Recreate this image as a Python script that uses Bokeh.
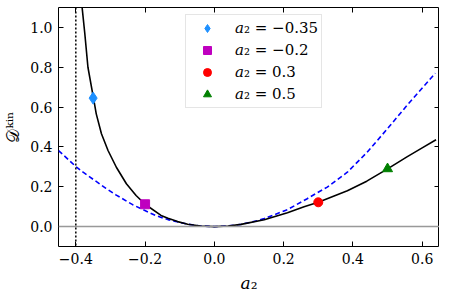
from bokeh.plotting import figure
from bokeh.models import Range1d, LinearAxis, FixedTicker, Span, Legend, LegendItem
from bokeh.embed import file_html
from bokeh.resources import INLINE

# ---- data ----
black_x = [-0.383, -0.374, -0.365, -0.349, -0.341, -0.326, -0.307, -0.283, -0.254,
           -0.226, -0.200, -0.154, -0.134, -0.106, -0.077, -0.040, 0.000, 0.040,
           0.077, 0.144, 0.211, 0.259, 0.300, 0.384, 0.440, 0.500, 0.556, 0.600, 0.640]
black_y = [1.12, 0.968, 0.800, 0.645, 0.566, 0.466, 0.382, 0.298, 0.215,
           0.156, 0.112, 0.056, 0.042, 0.025, 0.012, 0.003, 0.000, 0.003,
           0.011, 0.034, 0.070, 0.100, 0.122, 0.180, 0.228, 0.290, 0.350, 0.395, 0.436]

blue_x = [-0.450, -0.399, -0.379, -0.313, -0.283, -0.236, -0.206, -0.169, -0.134,
          -0.077, -0.040, 0.000, 0.040, 0.077, 0.125, 0.144, 0.211, 0.268, 0.292,
          0.326, 0.384, 0.441, 0.499, 0.556, 0.638]
blue_y = [0.382, 0.300, 0.273, 0.192, 0.158, 0.110, 0.085, 0.055, 0.035,
          0.012, 0.003, 0.000, 0.003, 0.011, 0.030, 0.040, 0.085, 0.140, 0.165,
          0.198, 0.273, 0.373, 0.490, 0.608, 0.770]

pts_x = [-0.35, -0.2, 0.3, 0.5]
pts_y = [0.645, 0.112, 0.122, 0.290]
pts_labels = ["\U0001D44E\u2082 = \u22120.35", "\U0001D44E\u2082 = \u22120.2",
              "\U0001D44E\u2082 = 0.3", "\U0001D44E\u2082 = 0.5"]
pts_markers = ["diamond", "square", "circle", "triangle"]
pts_colors = ["#1E90FF", "#BF00BF", "#FF0000", "#008000"]
pts_sizes = [12, 9, 9, 10]

asymptote_x = -0.4
baseline_y = 0.0

x_ticks = [-0.4, -0.2, 0.0, 0.2, 0.4, 0.6]
x_tick_labels = ["\u22120.4", "\u22120.2", "0.0", "0.2", "0.4", "0.6"]
y_ticks = [0.0, 0.2, 0.4, 0.6, 0.8, 1.0]
y_tick_labels = ["0.0", "0.2", "0.4", "0.6", "0.8", "1.0"]

FONT = "DejaVu Serif"

p = figure(frame_width=381, frame_height=239, output_backend="svg", toolbar_location=None,
           x_range=Range1d(-0.45, 0.65), y_range=Range1d(-0.1, 1.1),
           min_border_left=53, min_border_right=0, min_border_top=7, min_border_bottom=41)
p.background_fill_color = "white"
p.border_fill_color = "white"
p.outline_line_color = "black"
p.outline_line_width = 1
p.grid.visible = False

for ax in (p.xaxis[0], p.yaxis[0]):
    ax.major_tick_in = 5
    ax.major_tick_out = 0
    ax.minor_tick_in = 0
    ax.minor_tick_out = 0
    ax.axis_line_color = None
    ax.major_tick_line_color = "black"
    ax.major_label_text_font = FONT
    ax.major_label_text_font_size = "14px"
    ax.major_label_text_color = "black"
    ax.axis_label_text_font = FONT
    ax.axis_label_text_font_style = "normal"
    ax.axis_label_text_color = "black"

p.xaxis.ticker = FixedTicker(ticks=x_ticks)
p.xaxis.major_label_overrides = dict(zip(x_ticks, x_tick_labels))
p.yaxis.ticker = FixedTicker(ticks=y_ticks)
p.yaxis.major_label_overrides = dict(zip(y_ticks, y_tick_labels))
p.xaxis.axis_label = "\U0001D44E\u2082"
p.xaxis.axis_label_text_font_size = "17px"
p.xaxis.major_label_standoff = 6
p.xaxis.axis_label_standoff = 6
p.yaxis.axis_label = "\U0001D49F\u1D4F\u2071\u207F"
p.yaxis.axis_label_text_font_size = "17px"
p.yaxis.major_label_standoff = 6
p.yaxis.axis_label_standoff = 4

for loc, ticks in (("above", x_ticks), ("right", y_ticks)):
    ax = LinearAxis(ticker=FixedTicker(ticks=ticks), major_tick_in=5, major_tick_out=0,
                    minor_tick_in=0, minor_tick_out=0, axis_line_color=None,
                    major_label_text_font_size="1px", major_label_text_color=None,
                    major_label_standoff=0, major_tick_line_color="black")
    p.add_layout(ax, loc)

p.add_layout(Span(location=baseline_y, dimension="width", line_color="#999999", line_width=1.5))
p.add_layout(Span(location=asymptote_x, dimension="height", line_color="black",
                  line_width=1.5, line_dash="2 2"))

p.line(blue_x, blue_y, line_color="blue", line_width=1.6, line_dash="5 3")
p.line(black_x, black_y, line_color="black", line_width=1.6)

items = []
for i in range(len(pts_x)):
    r = p.scatter([pts_x[i]], [pts_y[i]], marker=pts_markers[i], size=pts_sizes[i],
                  fill_color=pts_colors[i], line_color=pts_colors[i])
    items.append(LegendItem(label=pts_labels[i], renderers=[r]))

legend = Legend(items=items, location=(127, 138), padding=3, spacing=2,
                glyph_width=36, glyph_height=20, label_height=20, label_standoff=10,
                label_text_font=FONT, label_text_font_size="15px", label_text_color="black",
                border_line_color="#cccccc", border_line_width=1,
                background_fill_color="white", background_fill_alpha=0.8,
                margin=0)
p.add_layout(legend, "center")

open("out.html", "w").write(file_html(p, INLINE))
